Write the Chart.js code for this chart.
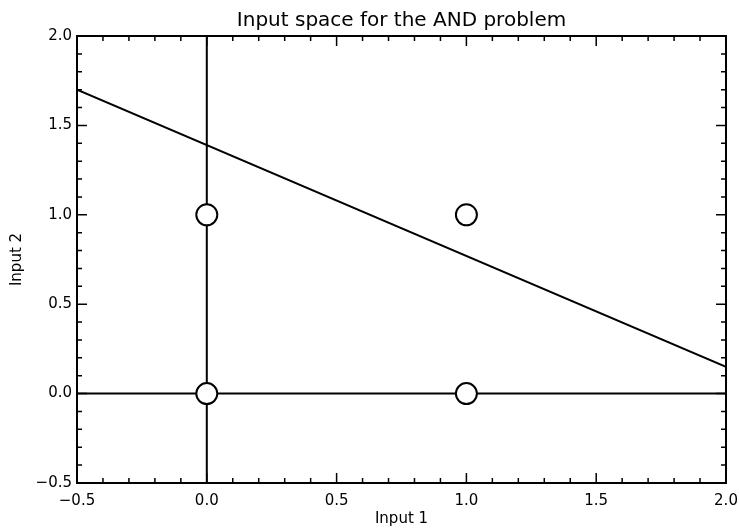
<!DOCTYPE html>
<html><head><meta charset="utf-8">
<script src="https://cdn.jsdelivr.net/npm/chart.js@4/dist/chart.umd.min.js"></script>
<style>html,body{margin:0;padding:0;background:#fff}#wrap{width:739px;height:529px}</style>
</head><body><div id="wrap"><canvas id="c" width="739" height="529"></canvas></div>
<script>
const chartTitle = 'Input space for the AND problem';
const xTitle = 'Input 1';
const yTitle = 'Input 2';
const xTickValues = [-0.5, 0.0, 0.5, 1.0, 1.5, 2.0];
const xTickLabels = ['\u22120.5', '0.0', '0.5', '1.0', '1.5', '2.0'];
const yTickValues = [-0.5, 0.0, 0.5, 1.0, 1.5, 2.0];
const yTickLabels = ['\u22120.5', '0.0', '0.5', '1.0', '1.5', '2.0'];
const minorPerMajor = 5;
const patternX = [0, 0, 1, 1];
const patternY = [0, 1, 0, 1];
const boundaryX = [-0.5, 2.0];
const boundaryY = [1.70, 0.15];
const vAxisX = [0, 0];
const vAxisY = [-0.5, 2.0];
const hAxisX = [-0.5, 2.0];
const hAxisY = [0, 0];

const FONT = 'DejaVu Sans';
const toPts = (xs, ys) => xs.map((v, i) => ({x: v, y: ys[i]}));

const frameTicks = {
  id: 'frameTicks',
  afterDatasetsDraw(chart) {
    const {ctx, chartArea: a, scales: {x, y}} = chart;
    ctx.save();
    ctx.strokeStyle = '#000';
    ctx.lineWidth = 1.5;
    const drawSet = (vals, scale, horiz) => {
      for (let k = 0; k < vals.length - 1; k++) {
        const v0 = vals[k], v1 = vals[k + 1];
        for (let j = 0; j < minorPerMajor; j++) {
          if (k === 0 && j === 0) continue;
          const v = v0 + (v1 - v0) * j / minorPerMajor;
          const len = j === 0 ? 10 : 5;
          const p = scale.getPixelForValue(v);
          ctx.beginPath();
          if (horiz) {
            ctx.moveTo(p, a.bottom); ctx.lineTo(p, a.bottom - len);
            ctx.moveTo(p, a.top); ctx.lineTo(p, a.top + len);
          } else {
            ctx.moveTo(a.left, p); ctx.lineTo(a.left + len, p);
            ctx.moveTo(a.right, p); ctx.lineTo(a.right - len, p);
          }
          ctx.stroke();
        }
      }
    };
    drawSet(xTickValues, x, true);
    drawSet(yTickValues, y, false);
    ctx.lineWidth = 2;
    ctx.strokeRect(a.left, a.top, a.right - a.left, a.bottom - a.top);
    ctx.restore();
  }
};

new Chart(document.getElementById('c'), {
  type: 'scatter',
  data: {
    datasets: [
      {data: toPts(patternX, patternY), pointRadius: 10.5, pointHoverRadius: 10.5,
       pointBackgroundColor: '#fff', pointBorderColor: '#000', pointBorderWidth: 2, showLine: false, order: 0},
      {data: toPts(boundaryX, boundaryY), showLine: true, borderColor: '#000', borderWidth: 2, pointRadius: 0, order: 1},
      {data: toPts(vAxisX, vAxisY), showLine: true, borderColor: '#000', borderWidth: 2, pointRadius: 0, order: 1},
      {data: toPts(hAxisX, hAxisY), showLine: true, borderColor: '#000', borderWidth: 2, pointRadius: 0, order: 1}
    ]
  },
  options: {
    responsive: false,
    animation: false,
    devicePixelRatio: 1,
    layout: {padding: {left: 0, right: 13, top: 0, bottom: 0}},
    plugins: {
      legend: {display: false},
      tooltip: {enabled: false},
      title: {display: true, fullSize: false, text: chartTitle, color: '#000',
              font: {family: FONT, size: 20, weight: 'normal'}, padding: {top: 9, bottom: 3}}
    },
    scales: {
      x: {
        type: 'linear', min: -0.5, max: 2.0,
        afterBuildTicks: s => { s.ticks = xTickValues.map(v => ({value: v})); },
        afterFit: s => { s.height = 46; s.paddingLeft = 0; s.paddingRight = 0; },
        ticks: {callback: (v, i) => xTickLabels[i], color: '#000', font: {family: FONT, size: 15}, padding: 9, maxRotation: 0, autoSkip: false},
        grid: {display: false, drawTicks: false},
        border: {display: false},
        title: {display: true, text: xTitle, color: '#000', font: {family: FONT, size: 15}, padding: {top: 0, bottom: 1}}
      },
      y: {
        type: 'linear', min: -0.5, max: 2.0,
        afterBuildTicks: s => { s.ticks = yTickValues.map(v => ({value: v})); },
        afterFit: s => { s.width = 77; s.paddingTop = 0; s.paddingBottom = 0; },
        ticks: {callback: (v, i) => yTickLabels[i], color: '#000', font: {family: FONT, size: 15}, padding: 5, autoSkip: false},
        grid: {display: false, drawTicks: false},
        border: {display: false},
        title: {display: true, text: yTitle, color: '#000', font: {family: FONT, size: 15}, padding: {top: 8, bottom: 0}}
      }
    }
  },
  plugins: [frameTicks]
});
</script></body></html>
